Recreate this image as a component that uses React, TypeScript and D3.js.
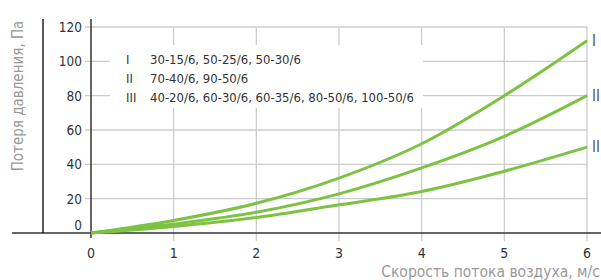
import React, { useRef, useEffect } from 'react'
import * as d3 from 'd3'

// air speed, m/s
const speeds = [0, 1, 2, 3, 4, 5, 6]
// pressure loss, Pa
const curveI = [0, 7.3, 17.3, 32, 52, 80, 112]
const curveII = [0, 5.2, 12.1, 22.8, 37.9, 56.3, 80]
const curveIII = [0, 3.8, 9, 16.4, 24.2, 36, 50]
const curveLabels = ['I', 'II', 'II']

const yTicks = [0, 20, 40, 60, 80, 100, 120]
const legendMarks = ['I', 'II', 'III']
const legendTexts = [
  '30-15/6, 50-25/6, 50-30/6',
  '70-40/6, 90-50/6',
  '40-20/6, 60-30/6, 60-35/6, 80-50/6, 100-50/6',
]

const FONT = "'Liberation Sans Narrow', 'DejaVu Sans Condensed', 'Roboto Condensed', Roboto, sans-serif"

export default function App() {
  const ref = useRef<SVGSVGElement>(null)

  useEffect(() => {
    const svg = d3.select(ref.current)
    svg.selectAll('*').remove()

    const x = d3.scaleLinear().domain([0, 6]).range([91, 587])
    const y = d3.scaleLinear().domain([0, 120]).range([233, 27])

    // grid
    svg.append('g').selectAll('line.h')
      .data(yTicks.slice(1))
      .enter().append('line')
      .attr('x1', 85).attr('x2', x(6))
      .attr('y1', d => y(d)).attr('y2', d => y(d))
      .attr('stroke', '#cccccc').attr('stroke-width', 1.3)

    svg.append('g').selectAll('line.v')
      .data(speeds.slice(1))
      .enter().append('line')
      .attr('x1', d => x(d)).attr('x2', d => x(d))
      .attr('y1', y(120)).attr('y2', 241)
      .attr('stroke', '#cccccc').attr('stroke-width', 1.3)

    // legend box hides the grid behind it
    const leg = svg.append('g')
    leg.append('rect')
      .attr('x', 110).attr('y', 45).attr('width', 313).attr('height', 63)
      .attr('fill', '#fff')
    legendMarks.forEach((m, i) => {
      leg.append('text').attr('x', 126).attr('y', 64 + i * 18.8)
        .attr('font-size', 13).attr('fill', '#333').text(m)
      leg.append('text').attr('x', 150).attr('y', 64 + i * 18.8)
        .attr('font-size', 13).attr('fill', '#333').text(legendTexts[i])
    })

    // axes
    svg.append('line').attr('x1', 12).attr('x2', 601).attr('y1', y(0)).attr('y2', y(0))
      .attr('stroke', '#333').attr('stroke-width', 1.5)
    svg.append('line').attr('x1', 43).attr('x2', 43).attr('y1', 19).attr('y2', y(0))
      .attr('stroke', '#222').attr('stroke-width', 1.5)
    svg.append('line').attr('x1', x(0)).attr('x2', x(0)).attr('y1', 19).attr('y2', 238)
      .attr('stroke', '#333').attr('stroke-width', 1.5)

    // tick labels
    svg.append('g').selectAll('text')
      .data(yTicks).enter().append('text')
      .attr('x', 82).attr('y', d => y(d) + (d === 0 ? -3 : 5))
      .attr('text-anchor', 'end').attr('font-size', 13.5).attr('fill', '#333')
      .text(d => d)
    svg.append('g').selectAll('text')
      .data(speeds).enter().append('text')
      .attr('x', d => x(d)).attr('y', 258)
      .attr('text-anchor', 'middle').attr('font-size', 14).attr('fill', '#333')
      .text(d => d)

    // titles
    svg.append('text')
      .attr('transform', 'translate(23,96) rotate(-90)')
      .attr('text-anchor', 'middle').attr('font-size', 15).attr('fill', '#999')
      .text('Потеря давления, Па')
    svg.append('text')
      .attr('x', 600).attr('y', 277)
      .attr('text-anchor', 'end').attr('font-size', 15.5).attr('fill', '#999')
      .text('Скорость потока воздуха, м/с')

    // curves
    const line = d3.line<number>()
      .x((d, i) => x(speeds[i]))
      .y(d => y(d))
      .curve(d3.curveMonotoneX)
    const series = [curveI, curveII, curveIII]
    series.forEach((s, i) => {
      svg.append('path').attr('d', line(s))
        .attr('fill', 'none').attr('stroke', '#7dc242').attr('stroke-width', 3)
      svg.append('text').attr('x', 592).attr('y', y(s[s.length - 1]) + 5)
        .attr('font-size', 15).attr('fill', '#555').text(curveLabels[i])
    })
  }, [])

  return (
    <svg
      ref={ref}
      width={601}
      height={280}
      style={{ position: 'absolute', left: 0, top: 0, fontFamily: FONT, background: '#fff' }}
    />
  )
}
